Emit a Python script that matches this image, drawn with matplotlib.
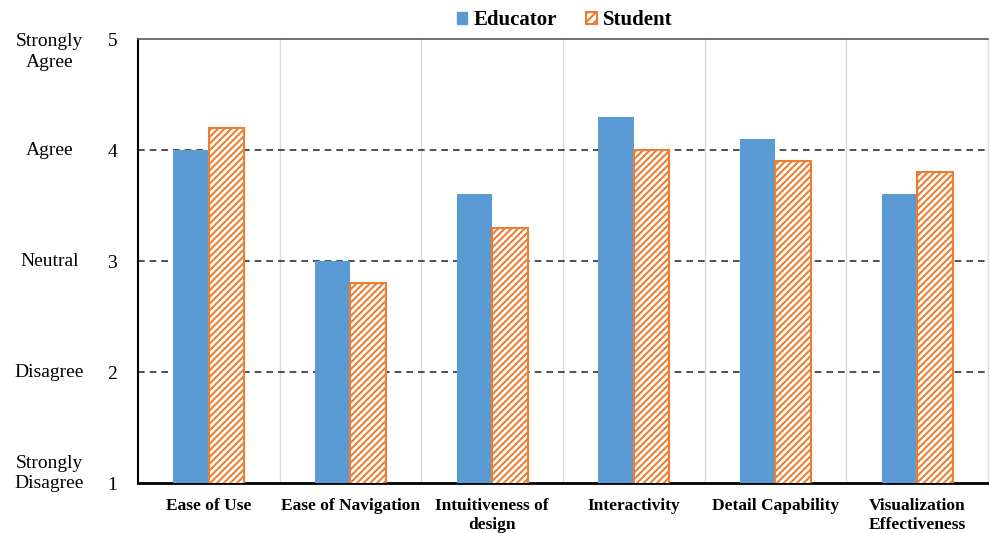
import matplotlib.pyplot as plt
import matplotlib as mpl
import numpy as np
from matplotlib.patches import Patch

plt.rcParams['font.family'] = ['Liberation Serif', 'DejaVu Serif']
mpl.rcParams['hatch.linewidth'] = 1.5
mpl.rcParams['hatch.color'] = '#ED7D31'

categories = ['Ease of Use', 'Ease of Navigation', 'Intuitiveness of\ndesign',
              'Interactivity', 'Detail Capability', 'Visualization\nEffectiveness']
educator = [4.0, 3.0, 3.6, 4.3, 4.1, 3.6]
student = [4.2, 2.8, 3.3, 4.0, 3.9, 3.8]
y_ticks = [1, 2, 3, 4, 5]
y_names = ['Strongly\nDisagree', 'Disagree', 'Neutral', 'Agree', 'Strongly\nAgree']

blue = '#5B9BD5'
orange = '#ED7D31'

fig = plt.figure(figsize=(9.89, 5.33), dpi=100)
ax = fig.add_axes([0.1395, 0.0938, 0.8595, 0.833])

x = np.arange(len(categories))
w = 0.25
ax.bar(x - w / 2, educator, w, color=blue, zorder=3)
ax.bar(x + w / 2, student, w, color='white', edgecolor=orange,
       linewidth=1.5, hatch='/////', zorder=3)

ax.set_xlim(-0.5, len(categories) - 0.5)
ax.set_ylim(1, 5)

# dashed grid at the inner levels
for yv in [2, 3, 4]:
    ax.axhline(yv, color='#333333', linestyle=(0, (4, 3)), linewidth=1.2, zorder=1)
# light separators between categories
for xv in np.arange(0.5, len(categories), 1.0):
    ax.axvline(xv, color='#D9D9D9', linewidth=1.0, zorder=0)

ax.set_xticks(x)
ax.set_xticklabels(categories, fontsize=12.5, fontweight='bold', linespacing=1.25)
ax.tick_params(axis='x', length=0, pad=11)

ax.set_yticks(y_ticks)
ax.set_yticklabels([str(v) for v in y_ticks], fontsize=14)
ax.tick_params(axis='y', length=0, pad=15)

# word labels beside the numbers; the two-line ones hang off the end ticks
trans = ax.get_yaxis_transform()
label_y = {5: 4.887, 1: 1.086}
for v, name in zip(y_ticks, y_names):
    ax.text(-0.104, label_y.get(v, v), name, transform=trans, ha='center', va='center',
            fontsize=14, linespacing=1.3)

ax.spines['top'].set_color('#595959')
ax.spines['top'].set_linewidth(1.2)
ax.spines['right'].set_color('#D9D9D9')
ax.spines['left'].set_linewidth(1.5)
ax.spines['bottom'].set_linewidth(2.0)

handles = [Patch(facecolor=blue, edgecolor=blue),
           Patch(facecolor='white', edgecolor=orange, hatch='////', linewidth=1.5)]
fig.legend(handles, ['Educator', 'Student'], loc='center', bbox_to_anchor=(0.571, 0.962),
           ncol=2, frameon=False, prop={'weight': 'bold', 'size': 15},
           handlelength=0.5, handleheight=0.5, handletextpad=0.3, columnspacing=1.4)

fig.savefig('out.png', dpi=100)
